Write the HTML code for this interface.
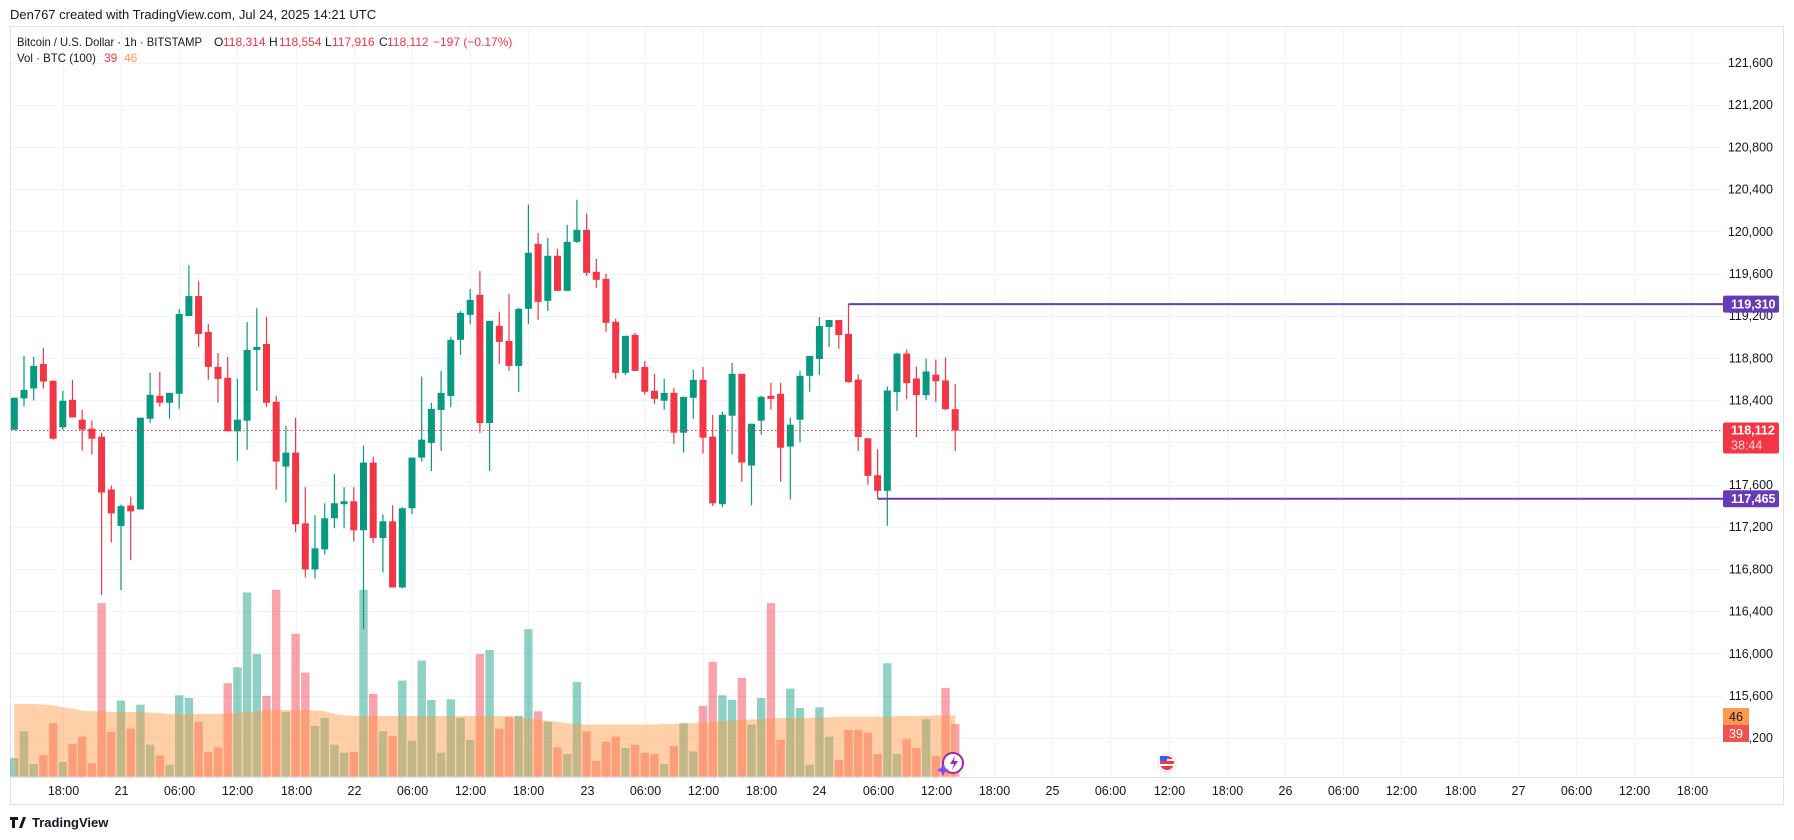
<!DOCTYPE html>
<html><head><meta charset="utf-8">
<style>
html,body{margin:0;padding:0;background:#fff;}
body{width:1794px;height:840px;overflow:hidden;font-family:"Liberation Sans",sans-serif;}
svg{display:block;}
</style></head>
<body>
<svg id="chart" width="1794" height="840" viewBox="0 0 1794 840" xmlns="http://www.w3.org/2000/svg" font-family="Liberation Sans, sans-serif">
  <rect x="0" y="0" width="1794" height="840" fill="#ffffff"/>
  <text x="10" y="19" font-size="13" fill="#131722">Den767 created with TradingView.com, Jul 24, 2025 14:21 UTC</text>
  <rect x="10.5" y="26.5" width="1773" height="778" fill="none" stroke="#e0e3eb"/>
  <g id="grid"></g>
  <g id="volumes"></g>
  <g id="candles"></g>
  <g id="axes"></g>
  <g id="overlays"></g>
  <g font-size="12">
    <text x="17" y="46" fill="#131722" textLength="185" lengthAdjust="spacingAndGlyphs">Bitcoin / U.S. Dollar · 1h · BITSTAMP</text>
    <text y="46" fill="#f23645"><tspan x="214" fill="#131722">O</tspan><tspan x="223">118,314</tspan><tspan x="269" fill="#131722">H</tspan><tspan x="279">118,554</tspan><tspan x="325" fill="#131722">L</tspan><tspan x="332">117,916</tspan><tspan x="379" fill="#131722">C</tspan><tspan x="387">118,112</tspan><tspan x="433">−197 (−0.17%)</tspan></text>
    <text x="17" y="62" fill="#131722" textLength="79" lengthAdjust="spacingAndGlyphs">Vol · BTC (100)</text>
    <text y="62"><tspan x="104" fill="#f23645">39</tspan><tspan x="124" fill="#ff9850">46</tspan></text>
  </g>
  <g>
    <path d="M10 817 h8 v3 h-3 v8 h-3 v-8 h-2 z M19 828 l4 -11 h3 l-4 11 z" fill="#131722"/>
    <text x="32" y="827" font-size="13" font-weight="bold" fill="#131722">TradingView</text>
  </g>
  <g>
    <circle cx="1167" cy="763" r="9" fill="#fff" stroke="#e0e3eb"/>
    <circle cx="1167" cy="763" r="7" fill="#f23645"/>
    <rect x="1160" y="759" width="14" height="2" fill="#fff"/>
    <rect x="1160" y="764" width="14" height="2" fill="#fff"/>
    <rect x="1160" y="756" width="7" height="5" fill="#2962ff"/>
  </g>
  <g>
    <circle cx="953" cy="763" r="10" fill="#fff" stroke="#9c27b0" stroke-width="2"/>
    <path d="M955 756 l-5 8 h4 l-2 6 l6 -9 h-4 z" fill="#9c27b0"/>
    <path d="M941 768 l2 -4 l2 4 l4 2 l-4 2 l-2 4 l-2 -4 l-4 -2 z" fill="#7c4dff"/>
  </g>
</svg>
<script>
// ---- data ----
const opens  = [118119,118416,118510,118743,118583,118142,118403,118214,118129,118053,117553,117207,117401,117364,118223,118441,118375,118460,119197,119386,119046,118715,118611,118104,118205,118876,118932,118384,117770,117902,117232,116795,116985,117280,117413,117441,117166,117808,117093,117251,116624,117375,117855,117994,118307,118440,118971,119208,119398,118183,119104,118961,118724,119265,119881,119341,119768,119436,119900,120014,119616,119549,119142,118658,119018,118715,118488,118394,118469,118091,118422,118592,118053,117413,118252,118649,117780,118205,118441,118460,117959,118214,118630,118790,119093,119159,119027,118595,118038,117688,117540,118476,118841,118605,118447,118642,118586,118314];
const highs  = [118422,118819,118809,118894,118583,118488,118592,118308,118205,118091,117590,117410,117486,118233,118658,118668,118469,119263,119679,119527,119121,118847,118809,118601,119140,119272,119187,118441,118157,118233,117575,117308,117422,117698,117575,117575,117968,117865,117318,117403,117384,117855,118623,118373,118677,118999,119246,119455,119625,119151,119236,119407,119274,120251,119986,119938,119834,120062,120299,120166,119739,119597,119170,119009,119037,118772,118649,118601,118516,118431,118687,118715,118261,118290,118753,118649,118176,118441,118564,118564,118233,118677,118819,119187,119159,119159,119310,118642,118038,117934,118529,118850,118879,118718,118794,118784,118803,118554];
const lows   = [118119,118340,118397,118510,118025,118120,118236,117921,117883,116553,117050,116600,116882,117364,118186,118337,118223,118318,119197,118904,118592,118375,118104,117826,117930,118488,118337,117553,117429,117147,116719,116709,116937,117185,117185,117061,116232,117045,116766,116624,116614,117318,117817,117728,117918,118335,118828,119123,118089,117728,118743,118677,118477,119123,119160,119246,119436,119436,119890,119578,119464,119047,118601,118639,118677,118450,118365,118309,117987,117902,118223,117893,117394,117385,117883,117626,117403,118072,118309,117626,117457,118000,118479,118639,118904,118885,118564,117918,117597,117465,117209,118296,118409,118050,118400,118381,118305,117916];
const closes = [118422,118497,118724,118576,118034,118394,118236,118120,118034,117524,117326,117395,117345,118233,118450,118375,118469,119216,119386,119027,118715,118601,118104,118214,118876,118904,118375,117817,117902,117223,116795,116995,117280,117422,117441,117166,117808,117093,117251,116624,117375,117855,118025,118316,118468,118971,119227,119350,118183,119151,118952,118724,119265,119796,119331,119768,119436,119900,120014,119606,119540,119132,118658,119009,118677,118479,118412,118469,118091,118431,118592,118044,117422,118261,118649,117808,118176,118431,118412,117949,118167,118630,118819,119102,119159,119017,118570,118050,117682,117540,118491,118841,118561,118447,118671,118579,118314,118112];
const volumes = [14,34,9.5,16,40,11,24.5,30,10,130,33.5,57,36,54,24,16,9,61,59,41,18.5,22,70,82,138,92,60.5,140,48.5,107,78,38,44,24,18,18.5,140,62,34,30.5,72,27,87,57.5,18,58,44,27.5,92,95,36,45,45.5,110.5,49,41,22,17,71,34,12,26,30,21.5,24,18,17,9.5,23,40,19,53,86,61,57.5,74,39,59,130,27.5,66,51.5,9,52,30,12.5,35,35,33,17,85,17,28,21.5,43,15.5,66.5,39.5];
const volMA = [54.5,54.5,54.5,54,53.5,52,51,49.5, 49,49,48.5,48.5,48.5,48.5,48,47.5,47, 47,47,47,47,47,47.5,48, 48.5,49,50,50,50,50,50, 49.5,49,47,46,45.5, 45.5,45.5,45.5,45.5,45.5,45.5,45.5,45.5,45.5,45.5,45.5,45.5,45.5,45.5, 45.5,45,44.5,43.5,42.5,42,41, 40,39.5,39,39,39,39,39,39,39,39,39.5,39.5,40, 40,40.5,41,41.5,42,42.5,43,43,43.5,44,44, 44,44,44.5,44.5,45,45,45,45,45,45,45.5,45.5,45.5,45.5,46,46,46];
const priceTicks = [121600,121200,120800,120400,120000,119600,119200,118800,118400,118000,117600,117200,116800,116400,116000,115600,115200];
const timeTickLabels = ["18:00","21","06:00","12:00","18:00","22","06:00","12:00","18:00","23","06:00","12:00","18:00","24","06:00","12:00","18:00","25","06:00","12:00","18:00","26","06:00","12:00","18:00","27","06:00","12:00","18:00"];
const levelHigh = 119310;
const levelLow = 117465;
const lastPrice = 118112;

// ---- scales ----
const PLOT_L = 11, PLOT_R = 1722, VOL_BASE = 776.7;
function yP(p){ return 442.3 - (p - 118000) * 0.1055; }
function xI(i){ return 14.3 + i * 9.7; }
function yV(v){ return VOL_BASE - v * 1.335; }
const NS = "http://www.w3.org/2000/svg";
function mk(tag, attrs, parent){
  const e = document.createElementNS(NS, tag);
  for (const k in attrs) e.setAttribute(k, attrs[k]);
  parent.appendChild(e);
  return e;
}
const fmt = v => v.toLocaleString("en-US");
const grid = document.getElementById("grid");
const axes = document.getElementById("axes");
const volG = document.getElementById("volumes");
const cG = document.getElementById("candles");
const ov = document.getElementById("overlays");

priceTicks.forEach(p => {
  const y = Math.round(yP(p)) + 0.5;
  const l = mk("line", {x1: PLOT_L, x2: PLOT_R, y1: y, y2: y, stroke: "#f0f3fa", "stroke-width": 1}, grid);
  
  
  const t = mk("text", {x: 1773, y: yP(p) + 4.5, "text-anchor": "end", "font-size": "12.5", fill: "#131722"}, axes);
  
  
  t.textContent = fmt(p);
});
timeTickLabels.forEach((lab, k) => {
  const x = Math.round(xI(5 + k * 6)) + 0.5;
  const l = mk("line", {x1: x, x2: x, y1: 27, y2: VOL_BASE, stroke: "#f0f3fa", "stroke-width": 1}, grid);
  
  
  const t = mk("text", {x: x, y: 795, "text-anchor": "middle", "font-size": "12.5", fill: "#131722"}, axes);
  
  
  t.textContent = lab;
});

volumes.forEach((v, i) => {
  const up = closes[i] >= opens[i];
  const r = mk("rect", {x: xI(i) - 4.2, y: yV(v), width: 8.4, height: VOL_BASE - yV(v), fill: up ? "rgba(8,153,129,0.45)" : "rgba(242,54,69,0.45)"}, volG);
  
  
});
let d = "M" + xI(0) + " " + VOL_BASE;
volMA.forEach((v, i) => { d += " L" + xI(i).toFixed(1) + " " + yV(v).toFixed(1); });
d += " L" + xI(volMA.length - 1) + " " + VOL_BASE + " Z";
const area = mk("path", {d: d, fill: "rgba(255,150,60,0.45)"}, volG);



opens.forEach((o, i) => {
  const c = closes[i], up = c >= o, col = up ? "#089981" : "#f23645";
  const x = xI(i);
  const w = mk("line", {x1: x, x2: x, y1: yP(highs[i]), y2: yP(lows[i]), stroke: col, "stroke-width": 1.2}, cG);
  
  
  const top = yP(Math.max(o, c)), bot = yP(Math.min(o, c));
  const b = mk("rect", {x: x - 3.5, y: top, width: 7, height: Math.max(1, bot - top), fill: col}, cG);
  
  
});

const ly = yP(lastPrice);
const lp = mk("line", {x1: PLOT_L, x2: PLOT_R, y1: ly, y2: ly, stroke: "#f23645", "stroke-width": 1, "stroke-dasharray": "1.5 2.5"}, ov);


const lpb = mk("rect", {x: 1723, y: ly - 8, width: 56, height: 31, rx: 2, fill: "#f23645"}, ov);


const lpt = mk("text", {x: 1731, y: ly + 4, "font-size": "12.5", "font-weight": "bold", fill: "#fff"}, ov);


lpt.textContent = fmt(lastPrice);
const cdt = mk("text", {x: 1731, y: ly + 19, "font-size": "12.5", fill: "#ffd6d9"}, ov);


cdt.textContent = "38:44";

[[levelHigh, 86, 'resistance-line', 'resistance-price-badge'], [levelLow, 89, 'support-line', 'support-price-badge']].forEach(([p, idx, nm, bnm]) => {
  const y = yP(p);
  const l = mk("line", {x1: xI(idx), x2: 1723, y1: y, y2: y, stroke: "#673ab7", "stroke-width": 2}, ov);
  
  
  const b = mk("rect", {x: 1723, y: y - 8.5, width: 56, height: 17, rx: 2, fill: "#673ab7"}, ov);
  
  
  const t = mk("text", {x: 1731, y: y + 4.5, "font-size": "12.5", "font-weight": "bold", fill: "#fff"}, ov);
  
  
  t.textContent = fmt(p);
});

const mab = mk("rect", {x: 1723, y: 708, width: 26, height: 17, fill: "#ff9850"}, ov);


const mat = mk("text", {x: 1736, y: 721, "text-anchor": "middle", "font-size": "12.5", fill: "#131722"}, ov);


mat.textContent = "46";
const vb = mk("rect", {x: 1723, y: 725, width: 26, height: 17, fill: "#ef5350"}, ov);


const vt = mk("text", {x: 1736, y: 738, "text-anchor": "middle", "font-size": "12.5", fill: "#fff"}, ov);


vt.textContent = "39";

const sepY = mk("line", {x1: 10, x2: 1784, y1: 777.5, y2: 777.5, stroke: "#e0e3eb"}, axes);


</script>
</body></html>
